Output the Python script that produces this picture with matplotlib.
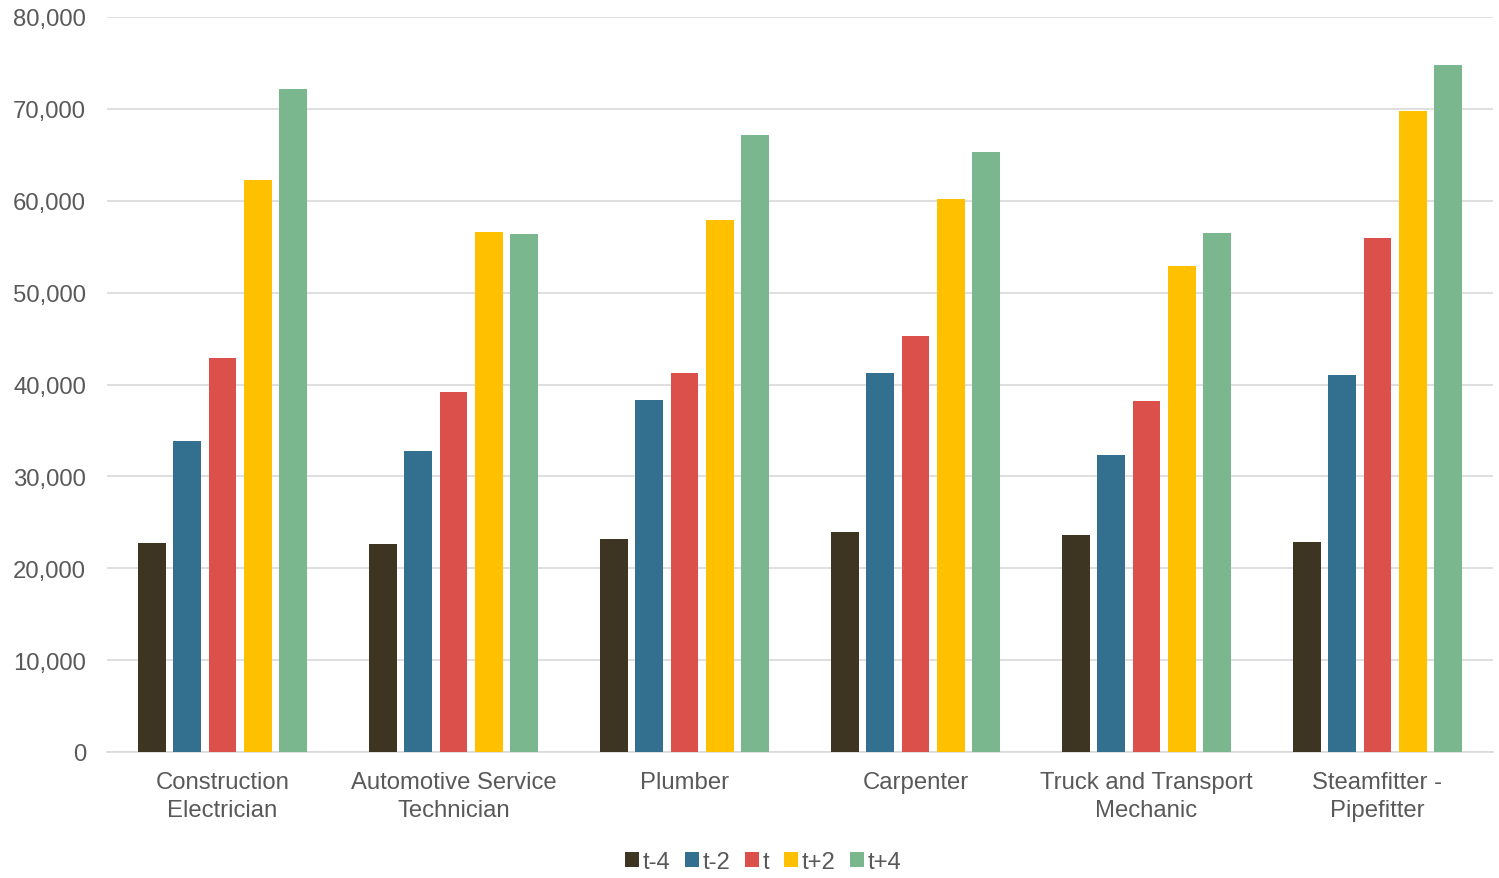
import matplotlib.pyplot as plt
import numpy as np
from matplotlib.ticker import FuncFormatter

categories = ["Construction\nElectrician", "Automotive Service\nTechnician", "Plumber",
              "Carpenter", "Truck and Transport\nMechanic", "Steamfitter -\nPipefitter"]
series_names = ["t-4", "t-2", "t", "t+2", "t+4"]
t_minus4 = [22700, 22600, 23200, 23900, 23600, 22900]
t_minus2 = [33800, 32800, 38300, 41200, 32300, 41000]
t_now = [42900, 39200, 41200, 45300, 38200, 56000]
t_plus2 = [62300, 56600, 57900, 60200, 52900, 69800]
t_plus4 = [72200, 56400, 67200, 65300, 56500, 74800]
colors = ["#3D3522", "#336F8E", "#DB504A", "#FFC000", "#7AB68E"]

plt.rcParams["font.family"] = ["Liberation Sans", "DejaVu Sans"]
text_color = "#595959"

fig = plt.figure(figsize=(14.99, 8.79), dpi=100)
ax = fig.add_axes([107 / 1499, 1 - 753 / 879, (1493 - 107) / 1499, (753 - 18) / 879])

x = np.arange(len(categories))
width = 0.121
step = 0.153
for k, (name, vals) in enumerate(zip(series_names, [t_minus4, t_minus2, t_now, t_plus2, t_plus4])):
    ax.bar(x + (k - 2) * step, vals, width, color=colors[k], label=name, zorder=3)

ax.set_xlim(-0.5, len(categories) - 0.5)
ax.set_ylim(0, 80000)
ax.set_yticks(range(0, 80001, 10000))
ax.yaxis.set_major_formatter(FuncFormatter(lambda v, p: f"{int(v):,}"))
ax.grid(axis="y", color="#D9D9D9", linewidth=1.2, zorder=0)
ax.set_xticks(x)
ax.set_xticklabels(categories, fontsize=17.2, color=text_color, linespacing=1.35)
ax.tick_params(axis="y", labelsize=17.2, labelcolor=text_color, length=0, pad=15)
ax.tick_params(axis="x", length=0, pad=14)
for s in ["top", "right", "left"]:
    ax.spines[s].set_visible(False)
ax.spines["bottom"].set_color("#D9D9D9")
ax.spines["bottom"].set_linewidth(1.2)

leg = fig.legend(loc="center", bbox_to_anchor=(763 / 1499, 1 - 863 / 879), ncol=5,
                 frameon=False, fontsize=17.2, handlelength=0.6, handleheight=0.6,
                 handletextpad=0.15, columnspacing=0.6)
for t in leg.get_texts():
    t.set_color(text_color)

fig.savefig("out.png", dpi=100, facecolor="white")
